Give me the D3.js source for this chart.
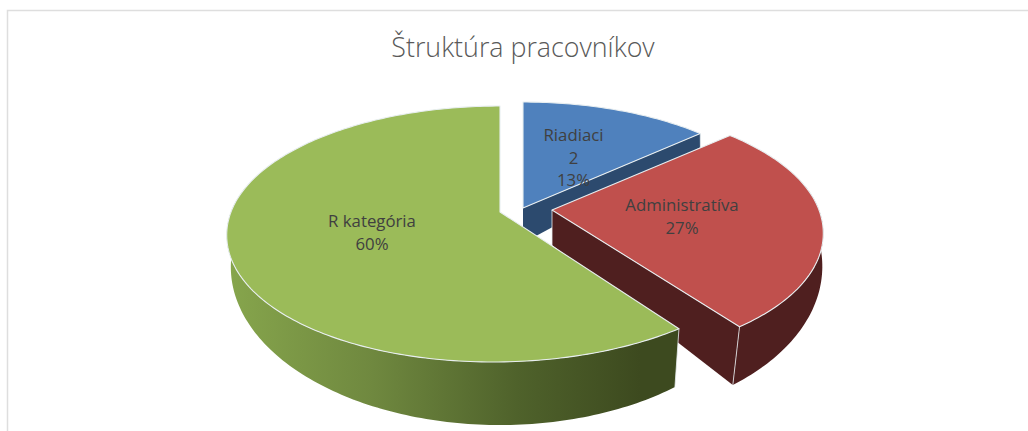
<!DOCTYPE html>
<html><head><meta charset="utf-8">
<script src="https://cdn.jsdelivr.net/npm/d3@7"></script>
<style>html,body{margin:0;padding:0;background:#fff}svg{display:block}</style>
</head><body><div id="c"></div>
<script>
const categories = ["Riadiaci", "Administratíva", "R kategória"];
const values = [2, 4, 9];
const percentLabels = ["13%", "27%", "60%"];
const labelLines = [["Riadiaci", "2", "13%"], ["Administratíva", "27%"], ["R kategória", "60%"]];
const topColors = ["#4f81bd", "#c0504d", "#9bbb59"];
const wallColors = ["#2c4a6e", "#4f1f1f", "url(#greenWall)"];
const apexes = [[523, 208], [552, 210], [500, 212]];
const labelPos = [[573.5, 141], [682, 211], [372, 227]];
const topWidths = [266, 267, 269];
const bottomWidths = [259, 268, 267];
const topLean = [0, 8, -7.2];
const bottomLean = [0, 8, 0];

const W = 1028, H = 431;
const svg = d3.select("#c").append("svg").attr("width", W).attr("height", H);
const defs = svg.append("defs");
const grad = defs.append("linearGradient").attr("id", "greenWall")
  .attr("gradientUnits", "userSpaceOnUse").attr("x1", 230).attr("x2", 640).attr("y1", 0).attr("y2", 0);
[[0, "#86a54c"], [0.35, "#6f883f"], [0.7, "#4f622b"], [1, "#3d4a1f"]].forEach(s =>
  grad.append("stop").attr("offset", s[0]).attr("stop-color", s[1]));

// frame
svg.append("path").attr("d", `M7.5,431V10.5H${W}`).attr("fill", "none").attr("stroke", "#dedede").attr("stroke-width", 1.5);

// perspective model of disk
function proj(m, apex, a) {
  const u = Math.sin(a), v = -Math.cos(a), s = 1 / (1 - m.k * v);
  const f = Math.max(v, 0);
  return [apex[0] + m.X * u * s + m.q * f * f, apex[1] + m.dy + m.Y * v * s];
}
const pie = d3.pie().sort(null).value(d => d)(values);
const rad = d => d * Math.PI / 180;
function arcPts(m, apex, a0, a1) {
  const n = Math.max(2, Math.ceil(Math.abs(a1 - a0) / rad(1)));
  return d3.range(n + 1).map(i => proj(m, apex, a0 + (a1 - a0) * i / n));
}
const line = d3.line();
const edge = {stroke: "#e8eef0", w: 1.1};

function face(pts, fill, stroke) {
  svg.append("path").attr("d", line(pts) + "Z").attr("fill", fill)
    .attr("stroke", stroke || "none").attr("stroke-width", stroke ? edge.w : 0)
    .attr("stroke-linejoin", "round");
}

pie.forEach((p, i) => {
  const apex = apexes[i], a0 = p.startAngle, a1 = p.endAngle;
  const wall = wallColors[i];
  const top_ = {X: topWidths[i], Y: 124.2, k: 0.172, q: topLean[i], dy: 0};
  const bot_ = {X: bottomWidths[i], Y: 155.4, k: 0.127, q: bottomLean[i], dy: 35};
  const apexB = [apex[0], apex[1] + bot_.dy];
  if (i < 2) {
    const t = proj(top_, apex, a1), b = proj(bot_, apex, a1);
    face([apex, t, b, apexB], wall);
    svg.append("path").attr("d", line(i === 0 ? [t, b] : [apex, apexB]))
      .attr("stroke", edge.stroke).attr("stroke-width", 0.8);
  }
  // outer wall: one path made of thin quads across the visible range
  const from = Math.max(a0, rad(78)), to = Math.min(a1, rad(282));
  if (to > from) {
    const tp = arcPts(top_, apex, from, to), bp = arcPts(bot_, apex, from, to);
    let d = "";
    for (let j = 0; j < tp.length - 1; j++) {
      d += line([tp[j], tp[j + 1], bp[j + 1], bp[j]]) + "Z";
    }
    svg.append("path").attr("d", d).attr("fill", wall).attr("stroke", "none");
  }
  if (i >= 1) {
    const ang = i === 1 ? a1 : a0;
    svg.append("path").attr("d", line([proj(top_, apex, ang), proj(bot_, apex, ang)]))
      .attr("stroke", edge.stroke).attr("stroke-width", 0.8);
  }
  // top face
  face([apex, ...arcPts(top_, apex, a0, a1)], topColors[i], edge.stroke);
});

// title
svg.append("text").attr("x", 523).attr("y", 57).attr("text-anchor", "middle")
  .attr("font-family", "Open Sans").attr("font-size", 26.8).attr("font-weight", 300)
  .attr("fill", "#595959").text("Štruktúra pracovníkov");

// labels
labelLines.forEach((ls, i) => {
  const t = svg.append("text").attr("text-anchor", "middle")
    .attr("font-family", "Open Sans").attr("font-size", 16.8).attr("fill", "#404040");
  ls.forEach((s, j) => t.append("tspan").attr("x", labelPos[i][0]).attr("y", labelPos[i][1] + j * 22.5).text(s));
});
</script></body></html>
